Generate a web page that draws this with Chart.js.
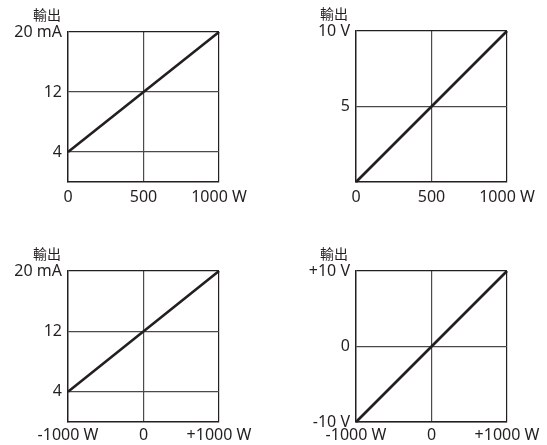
<!DOCTYPE html>
<html>
<head>
<meta charset="utf-8">
<script src="https://cdn.jsdelivr.net/npm/chart.js@4/dist/chart.umd.min.js"></script>
<style>
  html, body { margin: 0; padding: 0; background: #fff; }
  #wrap { position: relative; width: 547px; height: 445px; overflow: hidden; }
  .box { position: absolute; }
</style>
</head>
<body>
<div id="wrap">
  <div class="box" style="left:0;top:0;width:273px;height:222px"><canvas id="c1"></canvas></div>
  <div class="box" style="left:273px;top:0;width:274px;height:222px"><canvas id="c2"></canvas></div>
  <div class="box" style="left:0;top:222px;width:273px;height:223px"><canvas id="c3"></canvas></div>
  <div class="box" style="left:273px;top:222px;width:274px;height:223px"><canvas id="c4"></canvas></div>
</div>
<script>
// axis text
const outputLabel = '輸出';

// input (power) axes
const powerTicksUni = [0, 500, 1000];
const powerLabelsUni = ['0', '500', '1000 W'];
const powerTicksBi = [-1000, 0, 1000];
const powerLabelsBi = ['-1000 W', '0', '+1000 W'];

// output axes
const currentTicks = [4, 12, 20];
const currentLabels = ['4', '12', '20 mA'];
const voltTicksUni = [5, 10];
const voltLabelsUni = ['5', '10 V'];
const voltTicksBi = [-10, 0, 10];
const voltLabelsBi = ['-10 V', '0', '+10 V'];

// transfer lines (input, output)
const inUni = [0, 1000];
const inBi = [-1000, 1000];
const outCurrent = [4, 20];
const outVoltUni = [0, 10];
const outVoltBi = [-10, 10];

const INK = '#231f20';
const GRID = '#4a4a4a';
const FONT = "'Noto Sans', sans-serif";

// draws the small "output" caption above the y axis
const captionPlugin = {
  id: 'caption',
  afterDraw(chart, args, opts) {
    const { ctx, chartArea } = chart;
    ctx.save();
    ctx.font = "14px 'Noto Sans CJK TC', 'Noto Sans CJK JP', sans-serif";
    ctx.fillStyle = INK;
    ctx.textAlign = 'right';
    ctx.textBaseline = 'middle';
    ctx.fillText(opts.text, chartArea.left - opts.dx, chartArea.top - 17);
    ctx.restore();
  }
};

function makeChart(id, xs, ys, xTicks, xLabels, xMin, xMax, yTicks, yLabels, yMin, yMax, box) {
  const edge = (max) => (c) => (c.tick && c.tick.value === max ? INK : GRID);
  return new Chart(document.getElementById(id), {
    type: 'scatter',
    data: {
      datasets: [{
        data: xs.map((x, i) => ({ x: x, y: ys[i] })),
        showLine: true,
        borderColor: INK,
        borderWidth: 2.6,
        pointRadius: 0,
        clip: 3
      }]
    },
    options: {
      responsive: true,
      maintainAspectRatio: false,
      animation: false,
      events: [],
      layout: { padding: { left: 0, right: box.right, top: box.top, bottom: 0 } },
      plugins: {
        legend: { display: false },
        tooltip: { enabled: false },
        caption: { text: outputLabel, dx: box.capDx }
      },
      scales: {
        x: {
          type: 'linear',
          min: xMin,
          max: xMax,
          afterBuildTicks: (s) => { s.ticks = xTicks.map((v) => ({ value: v })); },
          afterFit: (s) => { s.height = box.xh; },
          ticks: {
            callback: (v, i) => xLabels[i],
            color: INK,
            padding: box.xpad,
            maxRotation: 0,
            autoSkip: false,
            font: { family: FONT, size: 16 }
          },
          grid: { color: edge(xMax), lineWidth: 1.2, drawTicks: false },
          border: { color: INK, width: 1.4 }
        },
        y: {
          type: 'linear',
          min: yMin,
          max: yMax,
          afterBuildTicks: (s) => { s.ticks = yTicks.map((v) => ({ value: v })); },
          afterFit: (s) => { s.width = box.yw; },
          ticks: {
            callback: (v, i) => yLabels[i],
            color: INK,
            padding: 6,
            autoSkip: false,
            font: { family: FONT, size: 16 }
          },
          grid: { color: edge(yMax), lineWidth: 1.2, drawTicks: false },
          border: { color: INK, width: 1.4 }
        }
      }
    },
    plugins: [captionPlugin]
  });
}

makeChart('c1', inUni, outCurrent, powerTicksUni, powerLabelsUni, 0, 1000,
  currentTicks, currentLabels, 0, 20,
  { right: 54, top: 32, xh: 40, xpad: 6, yw: 68, capDx: 7 });
makeChart('c2', inUni, outVoltUni, powerTicksUni, powerLabelsUni, 0, 1000,
  voltTicksUni, voltLabelsUni, 0, 10,
  { right: 40, top: 31, xh: 40, xpad: 6, yw: 83, capDx: 8 });
makeChart('c3', inBi, outCurrent, powerTicksBi, powerLabelsBi, -1000, 1000,
  currentTicks, currentLabels, 0, 20,
  { right: 54, top: 49, xh: 23, xpad: 4, yw: 68, capDx: 7 });
makeChart('c4', inBi, outVoltBi, powerTicksBi, powerLabelsBi, -1000, 1000,
  voltTicksBi, voltLabelsBi, -10, 10,
  { right: 40, top: 49, xh: 23, xpad: 4, yw: 83, capDx: 8 });
</script>
</body>
</html>
